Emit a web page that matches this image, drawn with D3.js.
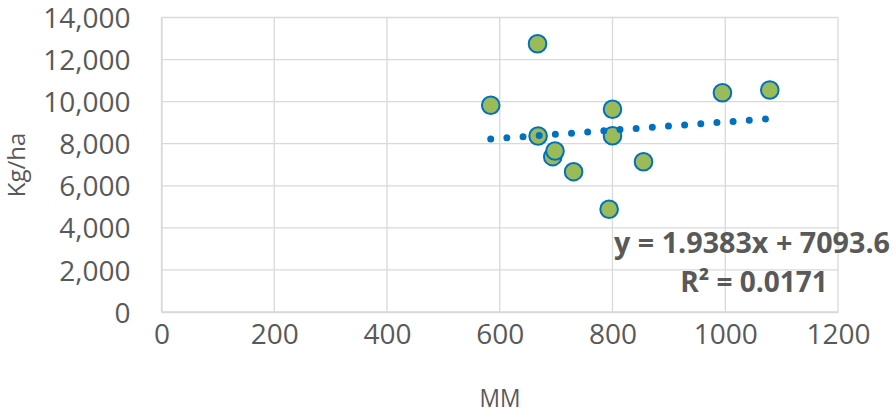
<!DOCTYPE html>
<html><head><meta charset="utf-8">
<script src="https://cdn.jsdelivr.net/npm/d3@7"></script>
<style>body{margin:0;background:#fff;}svg{display:block;}</style>
</head><body>
<svg id="c" width="894" height="409"></svg>
<script>
const mm = [584, 667, 668, 694, 698, 731, 794, 800, 800, 855, 995, 1079];
const yieldKg = [9826, 12754, 8367, 7383, 7654, 6670, 4882, 9636, 8381, 7145, 10425, 10553];
const xTicks = [0, 200, 400, 600, 800, 1000, 1200];
const yTicks = [0, 2000, 4000, 6000, 8000, 10000, 12000, 14000];
const slope = 1.9383, intercept = 7093.6;
const eqText = "y = 1.9383x + 7093.6";
const r2Text = "R² = 0.0171";

const svg = d3.select("#c");
const x = d3.scaleLinear().domain([0, 1200]).range([161.5, 838]);
const y = d3.scaleLinear().domain([0, 14000]).range([312, 17.5]);
const font = "'Open Sans', sans-serif";
const grey = "#595959";

// gridlines
svg.append("g").selectAll("line").data(yTicks).join("line")
  .attr("x1", x(0)).attr("x2", x(1200)).attr("y1", d => y(d)).attr("y2", d => y(d))
  .attr("stroke", "#D9D9D9").attr("stroke-width", 1.3);
svg.append("g").selectAll("line").data(xTicks).join("line")
  .attr("y1", y(0)).attr("y2", y(14000)).attr("x1", d => x(d)).attr("x2", d => x(d))
  .attr("stroke", "#D9D9D9").attr("stroke-width", 1.3);

// axes
const yAxis = svg.append("g").attr("transform", `translate(${x(0)},0)`)
  .call(d3.axisLeft(y).tickValues(yTicks).tickSize(0).tickPadding(31).tickFormat(d3.format(",")));
const xAxis = svg.append("g").attr("transform", `translate(0,${y(0)})`)
  .call(d3.axisBottom(x).tickValues(xTicks).tickSize(0).tickPadding(32).tickFormat(d3.format("d")));
[yAxis, xAxis].forEach(a => {
  a.select(".domain").attr("stroke", "#D9D9D9").attr("stroke-width", 1.3);
  a.selectAll("text").attr("fill", grey).style("font-family", font).style("font-size", "28px");
});
xAxis.selectAll("text").attr("dy", "0");
yAxis.selectAll("text").attr("dy", "0.36em");

// points
svg.append("g").selectAll("circle").data(mm.map((m, i) => [m, yieldKg[i]])).join("circle")
  .attr("cx", d => x(d[0])).attr("cy", d => y(d[1])).attr("r", 8.8)
  .attr("fill", "#9BBB59").attr("stroke", "#0070C0").attr("stroke-width", 2);

// trendline
const x0 = d3.min(mm), x1 = d3.max(mm);
svg.append("line")
  .attr("x1", x(x0)).attr("y1", y(slope * x0 + intercept))
  .attr("x2", x(x1)).attr("y2", y(slope * x1 + intercept))
  .attr("stroke", "#0070C0").attr("stroke-width", 7)
  .attr("stroke-linecap", "round").attr("stroke-dasharray", "0 16.2");

// equation
const eq = svg.append("g").style("font-family", font).style("font-weight", "bold")
  .style("font-size", "28px").attr("fill", grey).attr("text-anchor", "middle");
eq.append("text").attr("x", 752).attr("y", 253).attr("textLength", 276).attr("lengthAdjust", "spacingAndGlyphs").text(eqText);
eq.append("text").attr("x", 754).attr("y", 292).text(r2Text);

// axis titles
svg.append("text").attr("x", 500).attr("y", 407).attr("text-anchor", "middle")
  .attr("textLength", 41).attr("lengthAdjust", "spacingAndGlyphs")
  .style("font-family", font).style("font-size", "26px").attr("fill", grey).text("MM");
svg.append("text").attr("transform", "translate(25,165) rotate(-90)").attr("text-anchor", "middle")
  .style("font-family", font).style("font-size", "24px").attr("fill", grey).text("Kg/ha");
</script>
</body></html>
